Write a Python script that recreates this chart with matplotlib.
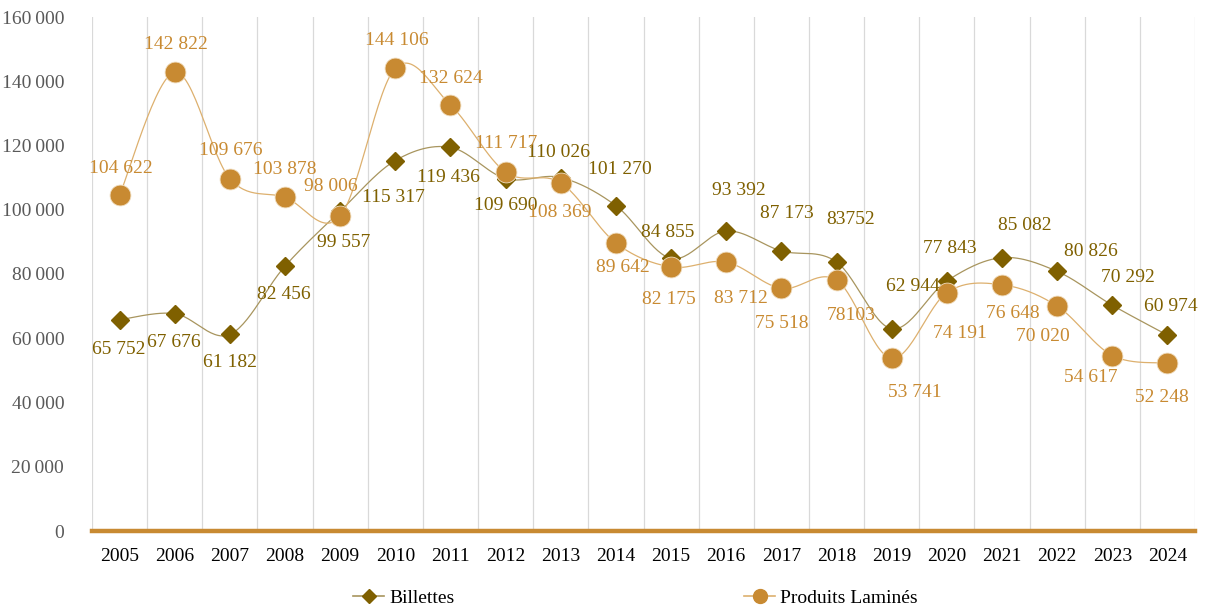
import matplotlib
matplotlib.use("Agg")
import matplotlib.pyplot as plt
import numpy as np
from matplotlib.lines import Line2D

years = [str(y) for y in range(2005, 2025)]
billettes = [65752, 67676, 61182, 82456, 99557, 115317, 119436, 109690, 110026, 101270,
             84855, 93392, 87173, 83752, 62944, 77843, 85082, 80826, 70292, 60974]
lamines = [104622, 142822, 109676, 103878, 98006, 144106, 132624, 111717, 108369, 89642,
           82175, 83712, 75518, 78103, 53741, 74191, 76648, 70020, 54617, 52248]
billettes_labels = ["65 752", "67 676", "61 182", "82 456", "99 557", "115 317", "119 436",
                    "109 690", "110 026", "101 270", "84 855", "93 392", "87 173", "83752",
                    "62 944", "77 843", "85 082", "80 826", "70 292", "60 974"]
lamines_labels = ["104 622", "142 822", "109 676", "103 878", "98 006", "144 106", "132 624",
                  "111 717", "108 369", "89 642", "82 175", "83 712", "75 518", "78103",
                  "53 741", "74 191", "76 648", "70 020", "54 617", "52 248"]
yticks = [0, 20000, 40000, 60000, 80000, 100000, 120000, 140000, 160000]
ytick_labels = ["0", "20\u2009000", "40\u2009000", "60\u2009000", "80\u2009000",
                "100\u2009000", "120\u2009000", "140\u2009000", "160\u2009000"]
series_names = ["Billettes", "Produits Laminés"]

# label offsets in pixels (dx right, dy down)
off_b = [(-1, 30), (-1, 29), (0, 28), (-1, 28), (4, 31), (-2, 37), (-2, 30), (0, 27),
         (-2, -25), (4, -36), (-3, -26), (13, -40), (6, -37), (14, -42), (21, -42),
         (3, -32), (23, -32), (34, -20), (16, -28), (3, -29)]
off_l = [(1, -26), (1, -28), (1, -28), (0, -28), (-9, -30), (1, -28), (0, -26), (1, -29),
         (-1, 30), (7, 24), (-2, 32), (15, 36), (0, 35), (15, 35), (23, 34), (13, 41),
         (11, 29), (-14, 30), (-21, 22), (-6, 34)]

FONT = ["Liberation Serif", "DejaVu Serif"]
plt.rcParams["font.family"] = FONT

C_B = "#7F6000"
C_B_LINE = "#A8955E"
C_L = "#C88A32"
C_L_LINE = "#DDB06E"


def smooth(xs, ys, n=30):
    xs = np.asarray(xs, float)
    ys = np.asarray(ys, float)
    P = np.column_stack([xs, ys])
    out = [P[0]]
    m = len(P)
    for i in range(m - 1):
        p0 = P[i - 1] if i > 0 else P[i]
        p1 = P[i]
        p2 = P[i + 1]
        p3 = P[i + 2] if i + 2 < m else P[i + 1]
        c1 = p1 + (p2 - p0) / 6.0
        c2 = p2 - (p3 - p1) / 6.0
        t = np.linspace(0, 1, n)[1:, None]
        seg = ((1 - t) ** 3) * p1 + 3 * ((1 - t) ** 2) * t * c1 + 3 * (1 - t) * t ** 2 * c2 + t ** 3 * p2
        out.extend(seg)
    out = np.array(out)
    return out[:, 0], out[:, 1]


fig = plt.figure(figsize=(12.09, 6.12), dpi=100)
ax = fig.add_axes([92 / 1209, 81 / 612, 1103 / 1209, 514 / 612])

x = np.arange(len(years))
ax.set_xlim(-0.5, len(years) - 0.5)
ax.set_ylim(0, 160000)

# vertical gridlines at category boundaries
for b in np.arange(-0.5, len(years), 1.0):
    ax.axvline(b, color="#D9D9D9", lw=0.9, zorder=0)

sx, sy = smooth(x, billettes)
ax.plot(sx, sy, color=C_B_LINE, lw=0.9, zorder=2)
ax.plot(x, billettes, ls="none", marker="D", ms=9.5, color=C_B, mec=C_B, zorder=3)

sx, sy = smooth(x, lamines)
ax.plot(sx, sy, color=C_L_LINE, lw=0.9, zorder=4)
ax.plot(x, lamines, ls="none", marker="o", ms=15, color=C_L, mec="#F0DDBF", mew=0.6, zorder=5)

for xi, v, lab, (dx, dy) in zip(x, billettes, billettes_labels, off_b):
    ax.annotate(lab, (xi, v), xytext=(dx, -dy), textcoords="offset pixels",
                ha="center", va="center", fontsize=14, color=C_B, zorder=6)
for xi, v, lab, (dx, dy) in zip(x, lamines, lamines_labels, off_l):
    ax.annotate(lab, (xi, v), xytext=(dx, -dy), textcoords="offset pixels",
                ha="center", va="center", fontsize=14, color=C_L, zorder=6)

for s in ["top", "right", "left"]:
    ax.spines[s].set_visible(False)
ax.spines["bottom"].set_color(C_L)
ax.spines["bottom"].set_linewidth(3.2)
ax.spines["bottom"].set_zorder(7)

ax.set_xticks(x)
ax.set_xticklabels(years, fontsize=14, color="black")
ax.set_yticks(yticks)
ax.set_yticklabels(ytick_labels, fontsize=14, color="#595959")
ax.tick_params(axis="x", length=0, pad=12)
ax.tick_params(axis="y", length=0, pad=20)

handles = [
    Line2D([], [], color=C_B_LINE, lw=1.2, marker="D", ms=7, mfc=C_B, mec=C_B),
    Line2D([], [], color=C_L_LINE, lw=1.2, marker="o", ms=10, mfc=C_L, mec=C_L),
]
fig.legend(handles, series_names, loc="center left", bbox_to_anchor=(353 / 1209, 1 - 598 / 612),
           ncol=2, frameon=False, fontsize=14, handlelength=1.6, handletextpad=0.25,
           columnspacing=14.9, borderaxespad=0, borderpad=0)

fig.savefig("out.png", dpi=100)
